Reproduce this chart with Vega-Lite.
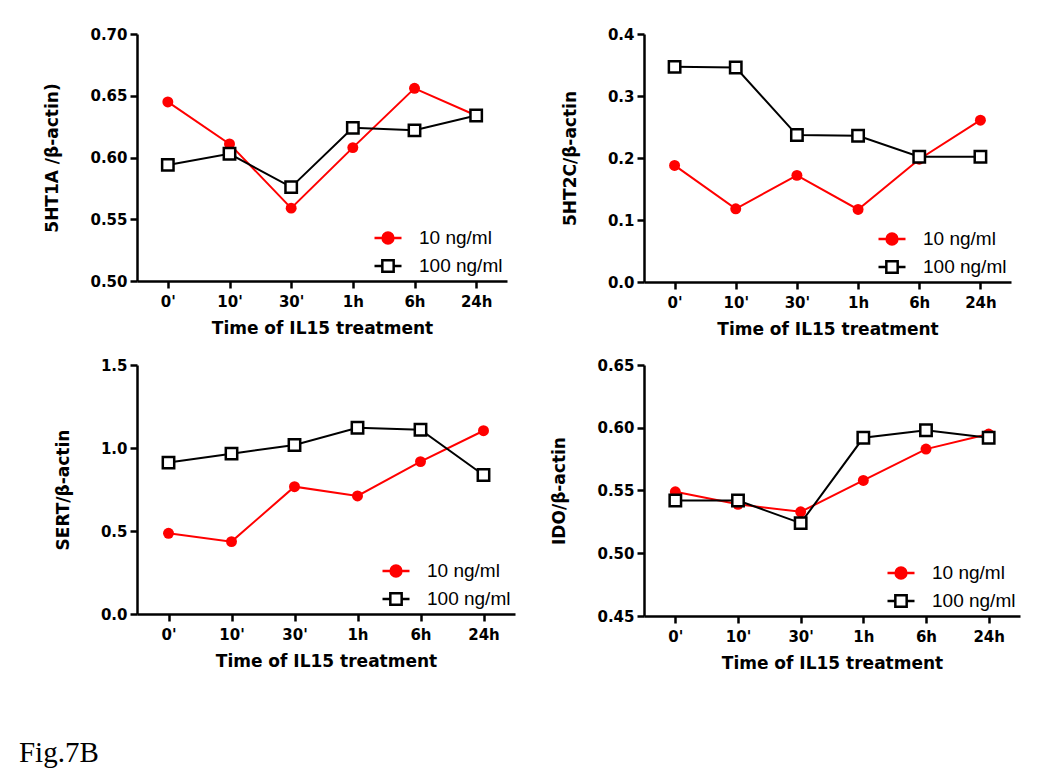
{
  "$schema": "https://vega.github.io/schema/vega-lite/v6.json",
  "background": "white",
  "padding": {"left": 18, "top": 27, "right": 5, "bottom": 5},
  "title": {"text": "Fig.7B", "orient": "bottom", "anchor": "start", "font": "Liberation Serif", "fontSize": 29, "fontWeight": "normal", "color": "#000", "offset": 68, "baseline": "top", "dx": -25},
  "datasets": {
    "all": [
      {"panel": "5HT1A", "series": "10 ng/ml", "time": "0'", "value": 0.645},
      {"panel": "5HT1A", "series": "10 ng/ml", "time": "10'", "value": 0.611},
      {"panel": "5HT1A", "series": "10 ng/ml", "time": "30'", "value": 0.559},
      {"panel": "5HT1A", "series": "10 ng/ml", "time": "1h", "value": 0.608},
      {"panel": "5HT1A", "series": "10 ng/ml", "time": "6h", "value": 0.656},
      {"panel": "5HT1A", "series": "10 ng/ml", "time": "24h", "value": 0.634},
      {"panel": "5HT1A", "series": "100 ng/ml", "time": "0'", "value": 0.594},
      {"panel": "5HT1A", "series": "100 ng/ml", "time": "10'", "value": 0.603},
      {"panel": "5HT1A", "series": "100 ng/ml", "time": "30'", "value": 0.576},
      {"panel": "5HT1A", "series": "100 ng/ml", "time": "1h", "value": 0.624},
      {"panel": "5HT1A", "series": "100 ng/ml", "time": "6h", "value": 0.622},
      {"panel": "5HT1A", "series": "100 ng/ml", "time": "24h", "value": 0.634},
      {"panel": "5HT2C", "series": "10 ng/ml", "time": "0'", "value": 0.188},
      {"panel": "5HT2C", "series": "10 ng/ml", "time": "10'", "value": 0.118},
      {"panel": "5HT2C", "series": "10 ng/ml", "time": "30'", "value": 0.172},
      {"panel": "5HT2C", "series": "10 ng/ml", "time": "1h", "value": 0.117},
      {"panel": "5HT2C", "series": "10 ng/ml", "time": "6h", "value": 0.198},
      {"panel": "5HT2C", "series": "10 ng/ml", "time": "24h", "value": 0.261},
      {"panel": "5HT2C", "series": "100 ng/ml", "time": "0'", "value": 0.347},
      {"panel": "5HT2C", "series": "100 ng/ml", "time": "10'", "value": 0.346},
      {"panel": "5HT2C", "series": "100 ng/ml", "time": "30'", "value": 0.237},
      {"panel": "5HT2C", "series": "100 ng/ml", "time": "1h", "value": 0.236},
      {"panel": "5HT2C", "series": "100 ng/ml", "time": "6h", "value": 0.202},
      {"panel": "5HT2C", "series": "100 ng/ml", "time": "24h", "value": 0.202},
      {"panel": "SERT", "series": "10 ng/ml", "time": "0'", "value": 0.486},
      {"panel": "SERT", "series": "10 ng/ml", "time": "10'", "value": 0.436},
      {"panel": "SERT", "series": "10 ng/ml", "time": "30'", "value": 0.767},
      {"panel": "SERT", "series": "10 ng/ml", "time": "1h", "value": 0.711},
      {"panel": "SERT", "series": "10 ng/ml", "time": "6h", "value": 0.918},
      {"panel": "SERT", "series": "10 ng/ml", "time": "24h", "value": 1.104},
      {"panel": "SERT", "series": "100 ng/ml", "time": "0'", "value": 0.912},
      {"panel": "SERT", "series": "100 ng/ml", "time": "10'", "value": 0.966},
      {"panel": "SERT", "series": "100 ng/ml", "time": "30'", "value": 1.018},
      {"panel": "SERT", "series": "100 ng/ml", "time": "1h", "value": 1.122},
      {"panel": "SERT", "series": "100 ng/ml", "time": "6h", "value": 1.110},
      {"panel": "SERT", "series": "100 ng/ml", "time": "24h", "value": 0.837},
      {"panel": "IDO", "series": "10 ng/ml", "time": "0'", "value": 0.549},
      {"panel": "IDO", "series": "10 ng/ml", "time": "10'", "value": 0.539},
      {"panel": "IDO", "series": "10 ng/ml", "time": "30'", "value": 0.533},
      {"panel": "IDO", "series": "10 ng/ml", "time": "1h", "value": 0.558},
      {"panel": "IDO", "series": "10 ng/ml", "time": "6h", "value": 0.583},
      {"panel": "IDO", "series": "10 ng/ml", "time": "24h", "value": 0.595},
      {"panel": "IDO", "series": "100 ng/ml", "time": "0'", "value": 0.542},
      {"panel": "IDO", "series": "100 ng/ml", "time": "10'", "value": 0.542},
      {"panel": "IDO", "series": "100 ng/ml", "time": "30'", "value": 0.524},
      {"panel": "IDO", "series": "100 ng/ml", "time": "1h", "value": 0.592},
      {"panel": "IDO", "series": "100 ng/ml", "time": "6h", "value": 0.598},
      {"panel": "IDO", "series": "100 ng/ml", "time": "24h", "value": 0.592}
    ],
    "none": []
  },
  "data": {"name": "all"},
  "columns": 2,
  "bounds": "flush",
  "spacing": {"row": 83, "column": 129},
  "concat": [
    {
      "width": 370, "height": 247,
      "transform": [{"filter": "datum.panel === '5HT1A'"}],
      "encoding": {
        "x": {"field": "time", "type": "ordinal", "sort": ["0'", "10'", "30'", "1h", "6h", "24h"], "scale": {"type": "point", "padding": 0.5}, "axis": {"title": "Time of IL15 treatment", "labelAngle": 0}},
        "y": {"field": "value", "type": "quantitative", "scale": {"domain": [0.5, 0.7], "nice": false, "zero": false}, "axis": {"title": "5HT1A /β-actin)", "values": [0.5, 0.55, 0.6, 0.65, 0.7], "format": ".2f"}}
      },
      "layer": [
        {"transform": [{"filter": "datum.series === '10 ng/ml'"}], "mark": {"type": "line", "color": "#ff0000", "strokeWidth": 2}},
        {"transform": [{"filter": "datum.series === '10 ng/ml'"}], "mark": {"type": "point", "shape": "circle", "filled": true, "color": "#ff0000", "size": 120, "opacity": 1}},
        {"transform": [{"filter": "datum.series === '100 ng/ml'"}], "mark": {"type": "line", "color": "#000000", "strokeWidth": 2}},
        {"transform": [{"filter": "datum.series === '100 ng/ml'"}], "mark": {"type": "point", "shape": "square", "fill": "#ffffff", "stroke": "#000000", "strokeWidth": 2.5, "size": 130, "opacity": 1, "fillOpacity": 1}},
        {"data": {"name": "none"}, "mark": {"type": "point", "filled": true},
         "encoding": {
           "fill": {"field": "series", "type": "nominal", "scale": {"domain": ["10 ng/ml", "100 ng/ml"], "range": ["#ff0000", "#ffffff"]}, "legend": {"title": null, "orient": "bottom-right", "offset": 4}},
           "stroke": {"field": "series", "type": "nominal", "scale": {"domain": ["10 ng/ml", "100 ng/ml"], "range": ["#ff0000", "#000000"]}, "legend": {"title": null, "orient": "bottom-right", "offset": 4}},
           "shape": {"field": "series", "type": "nominal", "scale": {"domain": ["10 ng/ml", "100 ng/ml"], "range": ["M-1,0H1M-0.4,0A0.4,0.4,0,1,1,0.4,0A0.4,0.4,0,1,1,-0.4,0Z", "M-1,0H-0.42M0.42,0H1M-0.42,-0.42H0.42V0.42H-0.42Z"]}, "legend": {"title": null, "orient": "bottom-right", "offset": 4}}
         }}
      ]
    },
    {
      "width": 367, "height": 248,
      "transform": [{"filter": "datum.panel === '5HT2C'"}],
      "encoding": {
        "x": {"field": "time", "type": "ordinal", "sort": ["0'", "10'", "30'", "1h", "6h", "24h"], "scale": {"type": "point", "padding": 0.5}, "axis": {"title": "Time of IL15 treatment", "labelAngle": 0}},
        "y": {"field": "value", "type": "quantitative", "scale": {"domain": [0, 0.4], "nice": false, "zero": false}, "axis": {"title": "5HT2C/β-actin", "values": [0, 0.1, 0.2, 0.3, 0.4], "format": ".1f"}}
      },
      "layer": [
        {"transform": [{"filter": "datum.series === '10 ng/ml'"}], "mark": {"type": "line", "color": "#ff0000", "strokeWidth": 2}},
        {"transform": [{"filter": "datum.series === '10 ng/ml'"}], "mark": {"type": "point", "shape": "circle", "filled": true, "color": "#ff0000", "size": 120, "opacity": 1}},
        {"transform": [{"filter": "datum.series === '100 ng/ml'"}], "mark": {"type": "line", "color": "#000000", "strokeWidth": 2}},
        {"transform": [{"filter": "datum.series === '100 ng/ml'"}], "mark": {"type": "point", "shape": "square", "fill": "#ffffff", "stroke": "#000000", "strokeWidth": 2.5, "size": 130, "opacity": 1, "fillOpacity": 1}},
        {"data": {"name": "none"}, "mark": {"type": "point", "filled": true},
         "encoding": {
           "fill": {"field": "series", "type": "nominal", "scale": {"domain": ["10 ng/ml", "100 ng/ml"], "range": ["#ff0000", "#ffffff"]}, "legend": {"title": null, "orient": "bottom-right", "offset": 4}},
           "stroke": {"field": "series", "type": "nominal", "scale": {"domain": ["10 ng/ml", "100 ng/ml"], "range": ["#ff0000", "#000000"]}, "legend": {"title": null, "orient": "bottom-right", "offset": 4}},
           "shape": {"field": "series", "type": "nominal", "scale": {"domain": ["10 ng/ml", "100 ng/ml"], "range": ["M-1,0H1M-0.4,0A0.4,0.4,0,1,1,0.4,0A0.4,0.4,0,1,1,-0.4,0Z", "M-1,0H-0.42M0.42,0H1M-0.42,-0.42H0.42V0.42H-0.42Z"]}, "legend": {"title": null, "orient": "bottom-right", "offset": 4}}
         }}
      ]
    },
    {
      "width": 378, "height": 249,
      "transform": [{"filter": "datum.panel === 'SERT'"}],
      "encoding": {
        "x": {"field": "time", "type": "ordinal", "sort": ["0'", "10'", "30'", "1h", "6h", "24h"], "scale": {"type": "point", "padding": 0.5}, "axis": {"title": "Time of IL15 treatment", "labelAngle": 0}},
        "y": {"field": "value", "type": "quantitative", "scale": {"domain": [0, 1.5], "nice": false, "zero": false}, "axis": {"title": "SERT/β-actin", "values": [0, 0.5, 1, 1.5], "format": ".1f"}}
      },
      "layer": [
        {"transform": [{"filter": "datum.series === '10 ng/ml'"}], "mark": {"type": "line", "color": "#ff0000", "strokeWidth": 2}},
        {"transform": [{"filter": "datum.series === '10 ng/ml'"}], "mark": {"type": "point", "shape": "circle", "filled": true, "color": "#ff0000", "size": 120, "opacity": 1}},
        {"transform": [{"filter": "datum.series === '100 ng/ml'"}], "mark": {"type": "line", "color": "#000000", "strokeWidth": 2}},
        {"transform": [{"filter": "datum.series === '100 ng/ml'"}], "mark": {"type": "point", "shape": "square", "fill": "#ffffff", "stroke": "#000000", "strokeWidth": 2.5, "size": 130, "opacity": 1, "fillOpacity": 1}},
        {"data": {"name": "none"}, "mark": {"type": "point", "filled": true},
         "encoding": {
           "fill": {"field": "series", "type": "nominal", "scale": {"domain": ["10 ng/ml", "100 ng/ml"], "range": ["#ff0000", "#ffffff"]}, "legend": {"title": null, "orient": "bottom-right", "offset": 4}},
           "stroke": {"field": "series", "type": "nominal", "scale": {"domain": ["10 ng/ml", "100 ng/ml"], "range": ["#ff0000", "#000000"]}, "legend": {"title": null, "orient": "bottom-right", "offset": 4}},
           "shape": {"field": "series", "type": "nominal", "scale": {"domain": ["10 ng/ml", "100 ng/ml"], "range": ["M-1,0H1M-0.4,0A0.4,0.4,0,1,1,0.4,0A0.4,0.4,0,1,1,-0.4,0Z", "M-1,0H-0.42M0.42,0H1M-0.42,-0.42H0.42V0.42H-0.42Z"]}, "legend": {"title": null, "orient": "bottom-right", "offset": 4}}
         }}
      ]
    },
    {
      "width": 376, "height": 251,
      "transform": [{"filter": "datum.panel === 'IDO'"}],
      "encoding": {
        "x": {"field": "time", "type": "ordinal", "sort": ["0'", "10'", "30'", "1h", "6h", "24h"], "scale": {"type": "point", "padding": 0.5}, "axis": {"title": "Time of IL15 treatment", "labelAngle": 0}},
        "y": {"field": "value", "type": "quantitative", "scale": {"domain": [0.45, 0.65], "nice": false, "zero": false}, "axis": {"title": "IDO/β-actin", "values": [0.45, 0.5, 0.55, 0.6, 0.65], "format": ".2f"}}
      },
      "layer": [
        {"transform": [{"filter": "datum.series === '10 ng/ml'"}], "mark": {"type": "line", "color": "#ff0000", "strokeWidth": 2}},
        {"transform": [{"filter": "datum.series === '10 ng/ml'"}], "mark": {"type": "point", "shape": "circle", "filled": true, "color": "#ff0000", "size": 120, "opacity": 1}},
        {"transform": [{"filter": "datum.series === '100 ng/ml'"}], "mark": {"type": "line", "color": "#000000", "strokeWidth": 2}},
        {"transform": [{"filter": "datum.series === '100 ng/ml'"}], "mark": {"type": "point", "shape": "square", "fill": "#ffffff", "stroke": "#000000", "strokeWidth": 2.5, "size": 130, "opacity": 1, "fillOpacity": 1}},
        {"data": {"name": "none"}, "mark": {"type": "point", "filled": true},
         "encoding": {
           "fill": {"field": "series", "type": "nominal", "scale": {"domain": ["10 ng/ml", "100 ng/ml"], "range": ["#ff0000", "#ffffff"]}, "legend": {"title": null, "orient": "bottom-right", "offset": 4}},
           "stroke": {"field": "series", "type": "nominal", "scale": {"domain": ["10 ng/ml", "100 ng/ml"], "range": ["#ff0000", "#000000"]}, "legend": {"title": null, "orient": "bottom-right", "offset": 4}},
           "shape": {"field": "series", "type": "nominal", "scale": {"domain": ["10 ng/ml", "100 ng/ml"], "range": ["M-1,0H1M-0.4,0A0.4,0.4,0,1,1,0.4,0A0.4,0.4,0,1,1,-0.4,0Z", "M-1,0H-0.42M0.42,0H1M-0.42,-0.42H0.42V0.42H-0.42Z"]}, "legend": {"title": null, "orient": "bottom-right", "offset": 4}}
         }}
      ]
    }
  ],
  "resolve": {"scale": {"fill": "independent", "stroke": "independent", "shape": "independent"}, "legend": {"fill": "independent", "stroke": "independent", "shape": "independent"}},
  "config": {
    "view": {"stroke": null},
    "axis": {"grid": false, "domainColor": "#000", "domainWidth": 2.5, "tickColor": "#000", "tickWidth": 2.5, "tickSize": 7, "labelFont": "DejaVu Sans", "labelFontWeight": "bold", "labelFontSize": 15, "labelColor": "#000", "labelPadding": 3, "titleFont": "DejaVu Sans", "titleFontWeight": "bold", "titleFontSize": 17, "titleColor": "#000"},
    "axisX": {"labelPadding": 6, "titlePadding": 11},
    "axisY": {"titlePadding": 28},
    "legend": {"labelFont": "Liberation Sans", "labelFontSize": 19, "labelFontWeight": "normal", "labelColor": "#000", "symbolSize": 729, "symbolStrokeWidth": 2.5, "labelOffset": 16, "rowPadding": 2, "padding": 0, "symbolOpacity": 1}
  }
}
